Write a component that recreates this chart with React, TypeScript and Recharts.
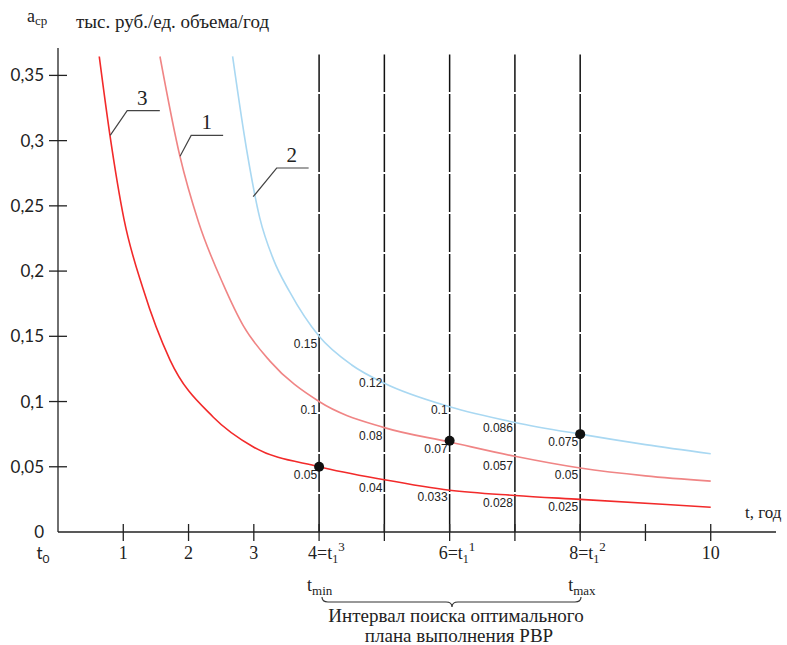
import React from 'react';
import { ComposedChart, Line, Scatter, XAxis, YAxis, ReferenceLine } from 'recharts';

// curve readings (t, years -> a, тыс. руб./ед. объема/год)
const curve1 = [
  { t: 1.562, a: 0.3645 }, { t: 1.868, a: 0.288 }, { t: 2.15, a: 0.238 }, { t: 2.53, a: 0.19 },
  { t: 2.84, a: 0.158 }, { t: 3.247, a: 0.131 }, { t: 4, a: 0.1 }, { t: 5, a: 0.08 },
  { t: 6, a: 0.069 }, { t: 7, a: 0.058 }, { t: 8, a: 0.049 }, { t: 9, a: 0.043 }, { t: 10, a: 0.039 }
];
const curve2 = [
  { t: 2.675, a: 0.3645 }, { t: 2.89, a: 0.293 }, { t: 3.09, a: 0.241 }, { t: 3.3, a: 0.209 },
  { t: 3.55, a: 0.184 }, { t: 4, a: 0.15 }, { t: 4.5, a: 0.128 }, { t: 5, a: 0.114 },
  { t: 6, a: 0.096 }, { t: 7, a: 0.084 }, { t: 8, a: 0.075 }, { t: 9, a: 0.067 }, { t: 10, a: 0.06 }
];
const curve3 = [
  { t: 0.632, a: 0.3645 }, { t: 0.796, a: 0.304 }, { t: 1.01, a: 0.24 }, { t: 1.306, a: 0.186 },
  { t: 1.715, a: 0.132 }, { t: 2.38, a: 0.088 }, { t: 3, a: 0.065 }, { t: 4, a: 0.05 },
  { t: 5, a: 0.04 }, { t: 6, a: 0.032 }, { t: 7, a: 0.028 }, { t: 8, a: 0.025 }, { t: 10, a: 0.019 }
];

const gridT = [4, 5, 6, 7, 8];
const xTicks = [0, 1, 2, 3, 4, 5, 6, 7, 8, 9, 10];
const yTicks = [0, 0.05, 0.1, 0.15, 0.2, 0.25, 0.3, 0.35];
const yTickLabels = ['0', '0,05', '0,1', '0,15', '0,2', '0,25', '0,3', '0,35'];

const valueLabels = [
  { t: 4, a: 0.15, text: '0.15' }, { t: 4, a: 0.1, text: '0.1' }, { t: 4, a: 0.05, text: '0.05' },
  { t: 5, a: 0.12, text: '0.12' }, { t: 5, a: 0.08, text: '0.08' }, { t: 5, a: 0.04, text: '0.04' },
  { t: 6, a: 0.1, text: '0.1' }, { t: 6, a: 0.07, text: '0.07' }, { t: 6, a: 0.033, text: '0.033' },
  { t: 7, a: 0.086, text: '0.086' }, { t: 7, a: 0.057, text: '0.057' }, { t: 7, a: 0.028, text: '0.028' },
  { t: 8, a: 0.075, text: '0.075' }, { t: 8, a: 0.05, text: '0.05' }, { t: 8, a: 0.025, text: '0.025' }
];
const optimumPoints = [{ t: 4, a: 0.05 }, { t: 6, a: 0.07 }, { t: 8, a: 0.075 }];

// curve number callouts
const leader3 = [{ t: 0.8, a: 0.304 }, { t: 1.06, a: 0.323 }, { t: 1.56, a: 0.323 }];
const leader1 = [{ t: 1.87, a: 0.288 }, { t: 2.04, a: 0.304 }, { t: 2.53, a: 0.304 }];
const leader2 = [{ t: 2.99, a: 0.257 }, { t: 3.35, a: 0.279 }, { t: 3.84, a: 0.279 }];
const curveNames = [
  { t: 1.29, a: 0.323, text: '3' },
  { t: 2.28, a: 0.304, text: '1' },
  { t: 3.58, a: 0.279, text: '2' }
];

const serif = 'Liberation Serif, serif';
const sans = 'Lato, Liberation Sans, sans-serif';

const XTick = (props: any) => {
  const { x, y, payload } = props;
  const v = payload.value;
  const sub = { 4: '3', 6: '1', 8: '2' } as Record<number, string>;
  let label: React.ReactNode = null;
  if (v === 0) {
    label = (
      <text x={x - 15} y={y + 27} textAnchor="middle" fontFamily={sans} fontSize={17} fill="#222">
        t<tspan dy={4} fontSize={12}>0</tspan>
      </text>
    );
  } else if (sub[v]) {
    label = (
      <g>
        <text x={x - 11} y={y + 27} fontFamily={serif} fontSize={18} fill="#222">
          {v}=t<tspan dy={4} fontSize={12}>1</tspan><tspan dy={-12} fontSize={13}>{sub[v]}</tspan>
        </text>
        {v !== 6 && (
          <text x={x - 12} y={y + 59} fontFamily={serif} fontSize={18} fill="#222">
            t<tspan dy={4} fontSize={13}>{v === 4 ? 'min' : 'max'}</tspan>
          </text>
        )}
      </g>
    );
  } else if (v < 4 || v === 10) {
    label = (
      <text x={x} y={y + 27} textAnchor="middle" fontFamily={serif} fontSize={18} fill="#222">{v}</text>
    );
  }
  return (
    <g>
      {v !== 0 && <line x1={x} x2={x} y1={y - 8} y2={y + 9} stroke="#222" strokeWidth={1.3} />}
      {label}
    </g>
  );
};

const YTick = (props: any) => {
  const { x, y, payload, index } = props;
  return (
    <g>
      {payload.value !== 0 && <line x1={x - 9} x2={x + 9} y1={y} y2={y} stroke="#222" strokeWidth={1.3} />}
      <text x={x - 14} y={y + 6} textAnchor="end" fontFamily={sans} fontSize={17} fill="#222">
        {yTickLabels[index]}
      </text>
    </g>
  );
};

const ValueLabel = (props: any) => {
  const { cx, cy, payload } = props;
  return (
    <text x={cx - 2} y={cy + 12} textAnchor="end" fontFamily="Liberation Sans, Arial, sans-serif" fontSize={12} fill="#222">
      {payload.text}
    </text>
  );
};

const CurveName = (props: any) => {
  const { cx, cy, payload } = props;
  return (
    <text x={cx} y={cy - 6} textAnchor="middle" fontFamily={serif} fontSize={21} fill="#222">
      {payload.text}
    </text>
  );
};

const Dot = (props: any) => <circle cx={props.cx} cy={props.cy} r={5} fill="#111" />;

export default function App() {
  return (
    <div style={{ position: 'absolute', left: 0, top: 0, width: 787, height: 645, background: '#fff' }}>
      <ComposedChart width={787} height={645} margin={{ top: 48, right: 11, bottom: 0, left: 0 }}>
        <XAxis
          type="number"
          dataKey="t"
          domain={[0, 11]}
          ticks={xTicks}
          height={113}
          tickSize={0}
          tickMargin={0}
          tick={<XTick />}
          axisLine={{ stroke: '#222', strokeWidth: 1.3 }}
          allowDataOverflow
        />
        <YAxis
          type="number"
          dataKey="a"
          domain={[0, 0.371]}
          ticks={yTicks}
          width={58}
          tickSize={0}
          tickMargin={0}
          tick={<YTick />}
          axisLine={{ stroke: '#222', strokeWidth: 1.3 }}
          allowDataOverflow
        />
        {gridT.map((t) => (
          <ReferenceLine
            key={t}
            segment={[{ x: t, y: 0 }, { x: t, y: 0.366 }]}
            stroke="#111"
            strokeWidth={1.5}
            strokeDasharray="38 2"
          />
        ))}
        <Line data={curve2} dataKey="a" type="monotone" stroke="#a9d8f2" strokeWidth={1.6} dot={false} isAnimationActive={false} />
        <Line data={curve1} dataKey="a" type="monotone" stroke="#f08585" strokeWidth={1.6} dot={false} isAnimationActive={false} />
        <Line data={curve3} dataKey="a" type="monotone" stroke="#f22a2a" strokeWidth={1.6} dot={false} isAnimationActive={false} />
        <Line data={leader3} dataKey="a" type="linear" stroke="#444" strokeWidth={1.2} dot={false} isAnimationActive={false} />
        <Line data={leader1} dataKey="a" type="linear" stroke="#444" strokeWidth={1.2} dot={false} isAnimationActive={false} />
        <Line data={leader2} dataKey="a" type="linear" stroke="#444" strokeWidth={1.2} dot={false} isAnimationActive={false} />
        <Scatter data={valueLabels} dataKey="a" shape={<ValueLabel />} isAnimationActive={false} />
        <Scatter data={curveNames} dataKey="a" shape={<CurveName />} isAnimationActive={false} />
        <Scatter data={optimumPoints} dataKey="a" shape={<Dot />} isAnimationActive={false} />
      </ComposedChart>
      <svg width={787} height={645} style={{ position: 'absolute', left: 0, top: 0, pointerEvents: 'none' }}>
        <text x={27} y={22} fontFamily={serif} fontSize={18} fill="#222">
          a<tspan dy={3} fontSize={13}>ср</tspan>
        </text>
        <text x={76} y={28} fontFamily={serif} fontSize={19} fill="#222">тыс. руб./ед. объема/год</text>
        <text x={745} y={518} fontFamily={serif} fontSize={17} fill="#222">t, год</text>
        <path
          d="M322,597 Q322,602 328,602 L446,602 Q452,602 452,607 Q452,602 458,602 L575,602 Q581,602 581,597"
          fill="none"
          stroke="#333"
          strokeWidth={1.2}
        />
        <text x={456} y={622} textAnchor="middle" fontFamily={serif} fontSize={19} fill="#222">Интервал поиска оптимального</text>
        <text x={459} y={642} textAnchor="middle" fontFamily={serif} fontSize={19} fill="#222">плана выполнения РВР</text>
      </svg>
    </div>
  );
}
